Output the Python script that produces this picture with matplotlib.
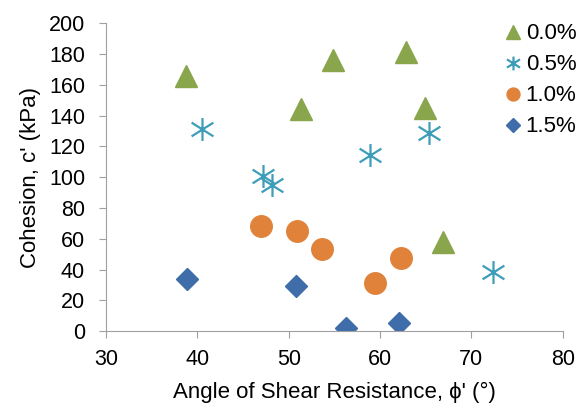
import numpy as np
import matplotlib.pyplot as plt
from matplotlib.path import Path

plt.rcParams['font.family'] = ['Liberation Sans', 'DejaVu Sans']

# friction angle (deg) and cohesion (kPa) per fibre content
phi_00 = [38.8, 51.4, 54.8, 62.8, 64.9, 66.9]
c_00 = [166, 144, 176, 181, 145, 58]

phi_05 = [40.5, 47.2, 48.2, 58.9, 65.4, 72.4]
c_05 = [131, 100.5, 95, 114.5, 129, 38.7]

phi_10 = [47.0, 50.9, 53.6, 59.4, 62.3]
c_10 = [68.4, 65.1, 53.2, 31.6, 47.4]

phi_15 = [38.9, 50.85, 56.3, 62.1]
c_15 = [33.8, 29.4, 1.9, 5.2]

labels = ['0.0%', '0.5%', '1.0%', '1.5%']

# Excel-style star: vertical bar plus an X
star = Path([(0, -1), (0, 1), (-0.95, -0.6), (0.95, 0.6), (-0.95, 0.6), (0.95, -0.6)],
            [Path.MOVETO, Path.LINETO] * 3)

fig = plt.figure(figsize=(5.79, 4.07), dpi=100)
ax = fig.add_axes([0.183, 0.186, 0.789, 0.757])

ax.plot(phi_00, c_00, ls='none', marker='^', ms=16.5, c='#8AA64C', label=labels[0])
ax.plot(phi_05, c_05, ls='none', marker=star, ms=16.5, mew=1.6, c='#3E9DB8', label=labels[1])
ax.plot(phi_10, c_10, ls='none', marker='o', ms=15.5, c='#E0823A', label=labels[2])
ax.plot(phi_15, c_15, ls='none', marker='D', ms=11.5, c='#3E6DAA', label=labels[3])

ax.set_xlim(30, 80)
ax.set_ylim(0, 200)
ax.set_xticks(np.arange(30, 81, 10))
ax.set_yticks(np.arange(0, 201, 20))

for s in ['top', 'right']:
    ax.spines[s].set_visible(False)
for s in ['left', 'bottom']:
    ax.spines[s].set_color('#A0A0A0')
ax.tick_params(colors='#A0A0A0', labelcolor='black', labelsize=15.5, length=5)
ax.tick_params(axis='x', pad=8)
ax.tick_params(axis='y', pad=10)

ax.set_xlabel("Angle of Shear Resistance, \u03d5' (\u00b0)", fontsize=16, labelpad=8)
ax.set_ylabel("Cohesion, c' (kPa)", fontsize=16, labelpad=6)

ax.legend(loc='upper left', bbox_to_anchor=(0.853, 1.028), frameon=False, fontsize=16,
          markerscale=0.6, handlelength=0.8, handletextpad=0.15, labelspacing=0.45,
          borderaxespad=0)

fig.savefig('out.png', dpi=100)
